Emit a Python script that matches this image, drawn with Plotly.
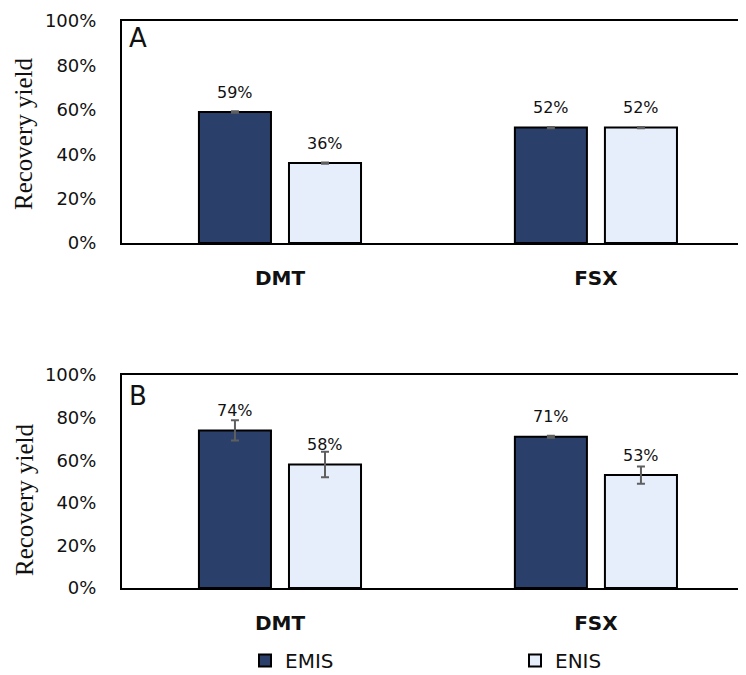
import plotly.graph_objects as go

categories = ["DMT", "FSX"]
series_names = ["EMIS", "ENIS"]

# Panel A
a_emis = [0.59, 0.52]
a_enis = [0.36, 0.52]
a_emis_err = [0.003, 0.003]
a_enis_err = [0.003, 0.003]

# Panel B
b_emis = [0.74, 0.71]
b_enis = [0.58, 0.53]
b_emis_err = [0.048, 0.005]
b_enis_err = [0.060, 0.041]

y_ticks = [0, 0.2, 0.4, 0.6, 0.8, 1.0]
y_tick_labels = ["0%", "20%", "40%", "60%", "80%", "100%"]

# page body has an 8px margin, so the figure is sized to fit the window
OFF = 8
W, H = 746 - OFF, 675 - OFF
colors = {"EMIS": "#2A406B", "ENIS": "#E6EEFB"}
legend_ids = {"EMIS": "legend", "ENIS": "legend2"}
err_color = "#5f5f5f"
FONT = "DejaVu Sans"


def px_x(p):
    return (p - OFF) / W


def px_y(p):
    return 1 - (p - OFF) / H


fig = go.Figure()

panels = [
    ("x", "y", a_emis, a_enis, a_emis_err, a_enis_err, True),
    ("x2", "y2", b_emis, b_enis, b_emis_err, b_enis_err, False),
]

annotations = []
for xa, ya, emis, enis, emis_err, enis_err, is_first in panels:
    for name, vals, errs, shift in [("EMIS", emis, emis_err, -45), ("ENIS", enis, enis_err, 45)]:
        fig.add_trace(go.Bar(
            x=categories, y=vals, name=name, xaxis=xa, yaxis=ya,
            marker=dict(color=colors[name], line=dict(color="black", width=2)),
            error_y=dict(type="data", array=errs, color=err_color, thickness=2, width=4),
            showlegend=(not is_first),
            legend=legend_ids[name],
        ))
        for c, v in zip(categories, vals):
            annotations.append(dict(
                x=c, y=v, xref=xa, yref=ya, text=f"{round(v*100)}%",
                showarrow=False, xshift=shift, yshift=20, yanchor="middle",
                font=dict(family=FONT, size=16, color="#111"),
            ))

# y titles and panel letters
for ycen in [134, 500]:
    annotations.append(dict(
        x=px_x(24), y=px_y(ycen), xref="paper", yref="paper",
        text="Recovery yield", textangle=-90, showarrow=False,
        font=dict(family="Liberation Serif", size=25, color="#111"),
        xanchor="center", yanchor="middle",
    ))
for letter, (px, py) in [("A", (138, 38)), ("B", (138, 396))]:
    annotations.append(dict(
        x=px_x(px), y=px_y(py), xref="paper", yref="paper",
        text=letter, showarrow=False,
        font=dict(family=FONT, size=26, color="#111"),
        xanchor="center", yanchor="middle",
    ))

xdom = [px_x(122), 1.0]
xcommon = dict(
    domain=xdom, range=[-0.5, 1.475], showline=True, linecolor="black", linewidth=2,
    mirror=True, showgrid=False, zeroline=False, ticks="",
    tickfont=dict(family="DejaVu Sans", size=20, color="#111", weight="bold"),
    ticklabelstandoff=16, fixedrange=True,
)
ycommon = dict(
    range=[0, 1], tickvals=y_ticks, ticktext=y_tick_labels, showline=True,
    linecolor="black", linewidth=2, mirror=False, showgrid=False, zeroline=False,
    ticks="", tickfont=dict(family=FONT, size=18, color="#111"),
    ticklabelstandoff=20,
)

legend_common = dict(
    orientation="h", xanchor="left", y=-5 / H, yanchor="bottom",
    font=dict(family=FONT, size=20, color="#111"),
    bgcolor="rgba(0,0,0,0)",
)

fig.update_layout(
    width=W, height=H,
    margin=dict(l=0, r=0, t=0, b=0, autoexpand=False),
    paper_bgcolor="white", plot_bgcolor="white",
    barmode="group", bargap=0.43, bargroupgap=0.2,
    xaxis=dict(**xcommon, anchor="y"),
    yaxis=dict(**ycommon, domain=[px_y(243), px_y(21)], anchor="x"),
    xaxis2=dict(**xcommon, anchor="y2"),
    yaxis2=dict(**ycommon, domain=[px_y(588), px_y(375)], anchor="x2"),
    legend=dict(**legend_common, x=px_x(245)),
    legend2=dict(**legend_common, x=px_x(515)),
    annotations=annotations,
    showlegend=True,
)

fig.write_html("out.html")
